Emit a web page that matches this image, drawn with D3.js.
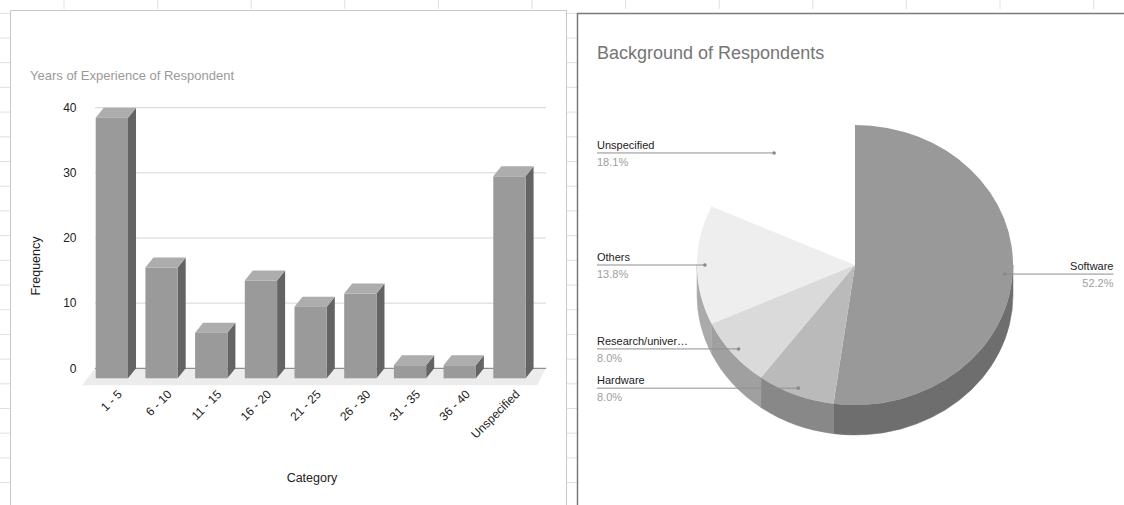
<html>
<head>
<script src="https://d3js.org/d3.v7.min.js"></script>
<style>
  body { margin: 0; background: #fff; }
  text { font-family: "Liberation Sans", Arial, sans-serif; }
</style>
</head>
<body>
<script>
// years of experience (bar chart)
var categories = ["1 - 5", "6 - 10", "11 - 15", "16 - 20", "21 - 25", "26 - 30", "31 - 35", "36 - 40", "Unspecified"];
var frequencies = [40, 17, 7, 15, 11, 13, 2, 2, 31];
var yTicks = [0, 10, 20, 30, 40];

// background of respondents (pie chart), clockwise from 12 o'clock
var backgrounds = ["Software", "Hardware", "Research/univer\u2026", "Others", "Unspecified"];
var backgroundCounts = [72, 11, 11, 19, 25];

var topColors = ["#999999", "#bababa", "#dadada", "#eeeeee", "#ffffff"];
var sideColors = ["#6e6e6e", "#888888", "#a0a0a0", "#aaaaaa", "#dddddd"];

var W = 1124, H = 505;
var svg = d3.select("body").append("svg")
    .attr("width", W)
    .attr("height", H);

// spreadsheet grid peeking out around the charts
var colX = d3.range(64, W, 93.6);
var rowY = d3.range(13.3, H, 24.7);
svg.append("g").selectAll("line").data(colX).enter().append("line")
    .attr("x1", d => d).attr("x2", d => d)
    .attr("y1", 0).attr("y2", 9)
    .attr("stroke", "#e0e0e0");
svg.append("g").selectAll("line").data(rowY).enter().append("line")
    .attr("x1", 0).attr("x2", 10)
    .attr("y1", d => d).attr("y2", d => d)
    .attr("stroke", "#e0e0e0");
svg.append("g").selectAll("line").data(rowY).enter().append("line")
    .attr("x1", 566).attr("x2", 577)
    .attr("y1", d => d).attr("y2", d => d)
    .attr("stroke", "#e0e0e0");

// chart frames
svg.append("path")
    .attr("d", "M10.5,505V10.5H566.5V505")
    .attr("fill", "none").attr("stroke", "#c8c8c8");
svg.append("path")
    .attr("d", "M577.5,505V13.5H1124")
    .attr("fill", "none").attr("stroke", "#7a7a7a").attr("stroke-width", 1.5);

/* ---------- bar chart ---------- */
var x = d3.scaleBand().domain(categories)
    .range([80.8, 540.5])
    .paddingInner(0.35)
    .paddingOuter(0.3);
var y = d3.scaleLinear().domain([0, 40]).range([368.3, 107.7]);
var dx = 8, dy = 10; // depth of the 3d bars

svg.append("text")
    .attr("x", 30).attr("y", 80)
    .attr("font-size", 13)
    .attr("fill", "#9a9a9a")
    .text("Years of Experience of Respondent");

// floor
svg.append("path")
    .attr("d", "M95," + y(0) + "H546L537," + (y(0) + 17) + "H82Z")
    .attr("fill", "#ececec");

// gridlines
svg.append("g").selectAll("line").data(yTicks).enter().append("line")
    .attr("x1", 95).attr("x2", 546)
    .attr("y1", d => y(d)).attr("y2", d => y(d))
    .attr("stroke", d => d === 0 ? "#777" : "#d6d6d6");

var yAxis = svg.append("g")
    .attr("transform", "translate(95,0)")
    .call(d3.axisLeft(y).tickValues(yTicks).tickSize(0).tickPadding(18.5));
yAxis.select(".domain").remove();
yAxis.selectAll("text")
    .attr("font-family", "Liberation Sans, Arial, sans-serif")
    .attr("font-size", 12).attr("fill", "#222");

var bars = svg.append("g").selectAll("g")
    .data(categories.map((c, i) => ({ c: c, v: frequencies[i] })))
    .enter().append("g");

bars.append("path")
    .attr("fill", "#646464")
    .attr("d", function (d) {
        var x1 = x(d.c) + x.bandwidth(), yt = y(d.v) + dy, yb = y(0) + dy;
        return "M" + x1 + "," + yt + "L" + (x1 + dx) + "," + (yt - dy) +
            "V" + (yb - dy) + "L" + x1 + "," + yb + "Z";
    });
bars.append("path")
    .attr("fill", "#adadad")
    .attr("d", function (d) {
        var x0 = x(d.c), x1 = x0 + x.bandwidth(), yt = y(d.v) + dy;
        return "M" + x0 + "," + yt + "H" + x1 + "L" + (x1 + dx) + "," + (yt - dy) +
            "H" + (x0 + dx) + "Z";
    });
bars.append("rect")
    .attr("fill", "#9a9a9a")
    .attr("x", d => x(d.c))
    .attr("width", x.bandwidth())
    .attr("y", d => y(d.v) + dy)
    .attr("height", d => y(0) - y(d.v));

var xAxis = svg.append("g")
    .attr("transform", "translate(0,392)")
    .call(d3.axisBottom(x).tickSize(0));
xAxis.select(".domain").remove();
xAxis.selectAll("text")
    .attr("font-family", "Liberation Sans, Arial, sans-serif")
    .attr("font-size", 12).attr("fill", "#222")
    .attr("text-anchor", "end")
    .attr("x", 0).attr("y", 0).attr("dy", ".35em")
    .attr("transform", "translate(8,0) rotate(-45)");

svg.append("text")
    .attr("x", 312).attr("y", 482)
    .attr("text-anchor", "middle")
    .attr("font-size", 12.5).attr("fill", "#222")
    .text("Category");

svg.append("text")
    .attr("transform", "translate(40,266) rotate(-90)")
    .attr("text-anchor", "middle")
    .attr("font-size", 12.5).attr("fill", "#222")
    .text("Frequency");

/* ---------- 3d pie chart ---------- */
svg.append("text")
    .attr("x", 597).attr("y", 59)
    .attr("font-size", 18)
    .attr("fill", "#757575")
    .text("Background of Respondents");

var cx = 855, cy = 265, rx = 158, ry = 140, depth = 30;
var total = d3.sum(backgroundCounts);
var slices = d3.pie().sort(null).startAngle(0).endAngle(2 * Math.PI)
    .value(d => d.n)(backgrounds.map((b, i) => ({ name: b, n: backgroundCounts[i], i: i })));

function pt(a, k, dz) {
    k = k || 1; dz = dz || 0;
    return (cx + k * rx * Math.sin(a)) + "," + (cy - k * ry * Math.cos(a) + dz);
}

// visible part of the side wall: front half only
svg.append("g").selectAll("path")
    .data(slices.filter(s => s.startAngle < 1.5 * Math.PI && s.endAngle > 0.5 * Math.PI))
    .enter().append("path")
    .attr("fill", d => sideColors[d.data.i])
    .attr("stroke", d => sideColors[d.data.i])
    .attr("stroke-width", 0.5)
    .attr("d", function (d) {
        var s0 = Math.max(d.startAngle, 0.5 * Math.PI), s1 = Math.min(d.endAngle, 1.5 * Math.PI);
        return "M" + pt(s0) + "A" + rx + "," + ry + " 0 0 1 " + pt(s1) +
            "L" + pt(s1, 1, depth) + "A" + rx + "," + ry + " 0 0 0 " + pt(s0, 1, depth) + "Z";
    });

svg.append("g").selectAll("path")
    .data(slices).enter().append("path")
    .attr("fill", d => topColors[d.data.i])
    .attr("d", function (d) {
        var large = d.endAngle - d.startAngle > Math.PI ? 1 : 0;
        return "M" + cx + "," + cy + "L" + pt(d.startAngle) +
            "A" + rx + "," + ry + " 0 " + large + " 1 " + pt(d.endAngle) + "Z";
    });

// labels with leader lines
var labels = svg.append("g").selectAll("g")
    .data(slices).enter().append("g")
    .each(function (d) {
        var g = d3.select(this);
        var mid = (d.startAngle + d.endAngle) / 2;
        var px = cx + 0.95 * rx * Math.sin(mid), py = cy - 0.95 * ry * Math.cos(mid);
        var right = mid < Math.PI;
        var tx = right ? 1113.5 : 597;
        g.append("line")
            .attr("x1", tx).attr("x2", px)
            .attr("y1", py).attr("y2", py)
            .attr("stroke", "#8f8f8f");
        g.append("circle")
            .attr("cx", px).attr("cy", py).attr("r", 1.8)
            .attr("fill", "#8a8a8a");
        g.append("text")
            .attr("x", tx).attr("y", py - 4)
            .attr("text-anchor", right ? "end" : "start")
            .attr("font-size", 11).attr("fill", "#222")
            .text(d.data.name);
        g.append("text")
            .attr("x", tx).attr("y", py + 13)
            .attr("text-anchor", right ? "end" : "start")
            .attr("font-size", 11).attr("fill", "#9e9e9e")
            .text((d.data.n / total * 100).toFixed(1) + "%");
    });
</script>
</body>
</html>
